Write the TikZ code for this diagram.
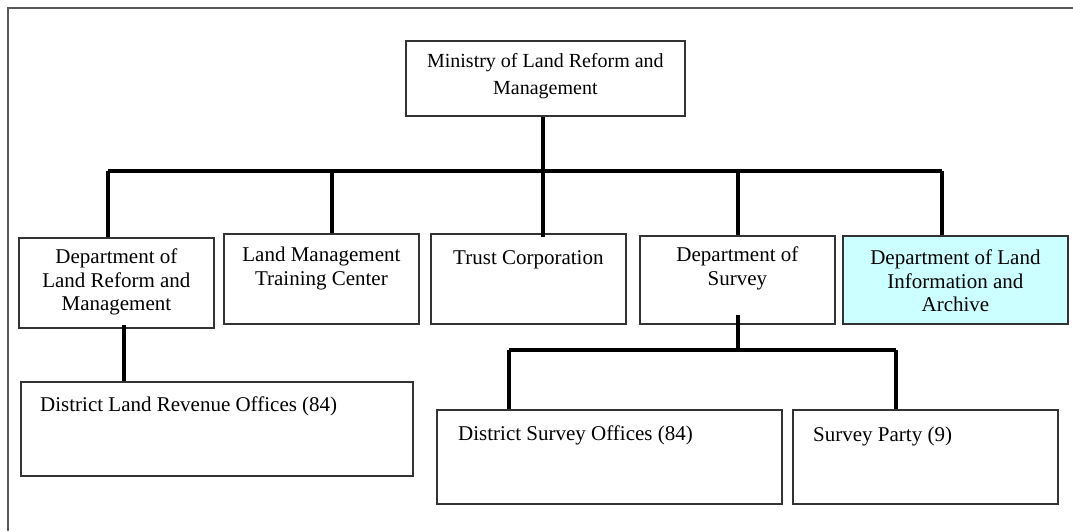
\documentclass[tikz,border=0pt]{standalone}
\usepackage{fontspec}
\setmainfont{Liberation Serif}
\usetikzlibrary{positioning}

\definecolor{archivecyan}{RGB}{204,255,255}

\tikzset{
  box/.style={draw=black!80, line width=1.8pt, anchor=north west, inner sep=0pt},
  txt/.style={inner sep=0pt, align=center, font=\fontsize{21}{23.5}\selectfont},
  conn/.style={line width=3.3pt, black},
  frame/.style={line width=1.5pt, black!65}
}

\begin{document}
\begin{tikzpicture}[x=1pt,y=-1pt]
    \useasboundingbox (0,0) rectangle (1073,531);
    \draw[frame] (1073,8) -- (8,8) -- (8,531);
    % boxes
    \node[box, minimum width=279pt, minimum height=75pt] (ministry) at (405,40) {};
    \node[box, minimum width=195pt, minimum height=90pt] (dlrm) at (18,237) {};
    \node[box, minimum width=195pt, minimum height=90pt] (lmtc) at (223,233) {};
    \node[box, minimum width=195pt, minimum height=90pt] (trust) at (430,233) {};
    \node[box, minimum width=195pt, minimum height=88pt] (survey) at (639,235) {};
    \node[box, fill=archivecyan, minimum width=225pt, minimum height=88pt] (archive) at (842,235) {};
    \node[box, minimum width=392pt, minimum height=94pt] (dlro) at (20,381) {};
    \node[box, minimum width=345pt, minimum height=94pt] (dso) at (436,409) {};
    \node[box, minimum width=265pt, minimum height=94pt] (sp) at (792,409) {};
    % texts
    \node[txt, font=\fontsize{20}{27}\selectfont, below=13pt of ministry.north] (ministry-txt) {Ministry of Land Reform and\\Management};
    \node[txt, below=12pt of dlrm.north] (dlrm-txt) {Department of\\Land Reform and\\Management};
    \node[txt, below=14pt of lmtc.north] (lmtc-txt) {Land Management\\Training Center};
    \node[txt, below=17pt of trust.north] (trust-txt) {Trust Corporation};
    \node[txt, below=12pt of survey.north] (survey-txt) {Department of\\Survey};
    \node[txt, below=15pt of archive.north] (archive-txt) {Department of Land\\Information and\\Archive};
    \node[txt, below right=16pt and 20pt of dlro.north west] (dlro-txt) {District Land Revenue Offices (84)};
    \node[txt, below right=17pt and 22pt of dso.north west] (dso-txt) {District Survey Offices (84)};
    \node[txt, below right=18pt and 21pt of sp.north west] (sp-txt) {Survey Party (9)};
    % bus points
    \coordinate (bus1) at (108,171);
    \coordinate (bus2) at (332,171);
    \coordinate (bus3) at (543,171);
    \coordinate (bus4) at (738,171);
    \coordinate (bus5) at (942,171);
    \coordinate (sv-stub) at (738,315);
    \coordinate (sub) at (738,350);
    \coordinate (sub1) at (509,350);
    \coordinate (sub2) at (896,350);
    \coordinate (lr-stub) at (124,325);
    % connectors
    \draw[conn] (ministry.south -| bus3) -- (bus3);
    \draw[conn] (bus1) -- (bus5);
    \draw[conn] (bus1) -- (bus1 |- dlrm.north);
    \draw[conn] (bus2) -- (bus2 |- lmtc.north);
    \draw[conn] (bus3) -- ([yshift=-4pt]bus3 |- trust.north);
    \draw[conn] (bus4) -- (bus4 |- survey.north);
    \draw[conn] (bus5) -- (bus5 |- archive.north);
    \draw[conn] (sv-stub) -- (sub);
    \draw[conn] (sub1) -- (sub2);
    \draw[conn] (sub1) -- (sub1 |- dso.north);
    \draw[conn] (sub2) -- (sub2 |- sp.north);
    \draw[conn] (lr-stub) -- (lr-stub |- dlro.north);
\end{tikzpicture}
\end{document}
